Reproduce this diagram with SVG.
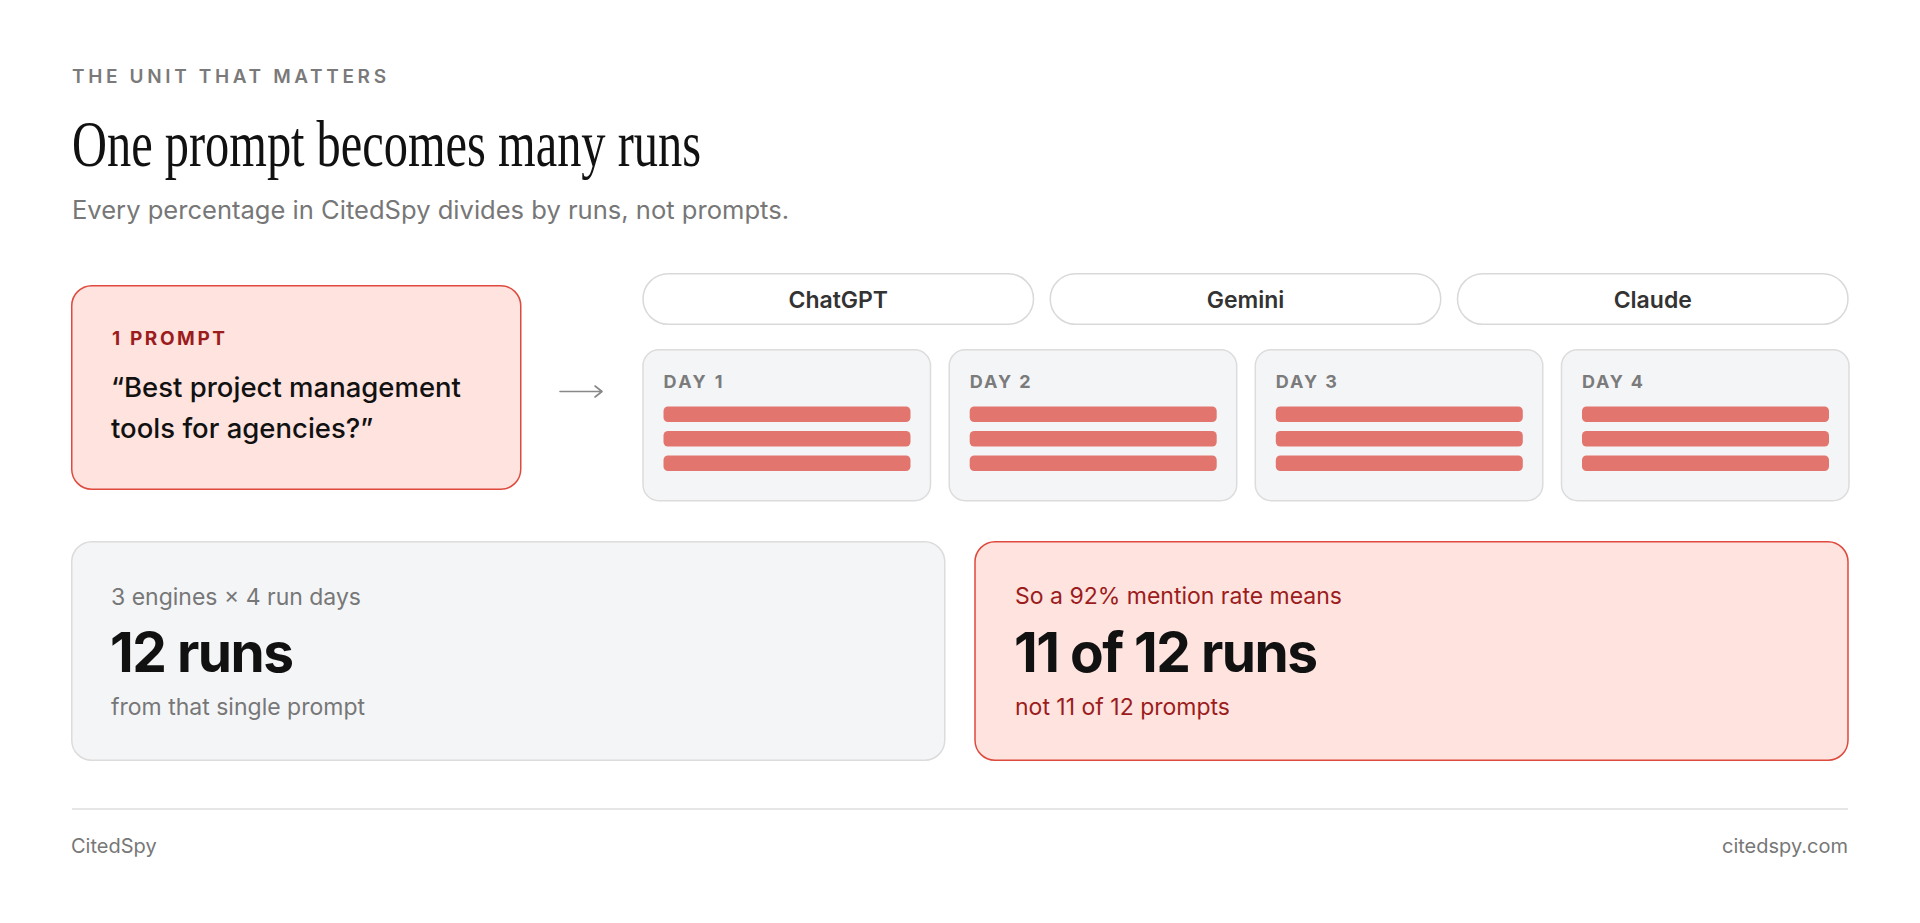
<svg xmlns="http://www.w3.org/2000/svg" width="1920" height="923" viewBox="0 0 1920 923">
<style>
.eyebrow{font-family:Inter,"Liberation Sans",sans-serif;font-weight:600;font-size:19px;fill:#7a7a7a}
.title{font-family:"Liberation Serif","DejaVu Serif",serif;font-size:66px;fill:#111}
.sub{font-family:Inter,"Liberation Sans",sans-serif;font-size:25px;fill:#777}
.pink{fill:#fee3df;stroke:#de4a3d;stroke-width:1.5}
.gray{fill:#f4f5f7;stroke:#dcdcdc;stroke-width:1.5}
.pill{fill:#fff;stroke:#d9d9d9;stroke-width:1.5}
.pilltxt{font-family:Inter,"Liberation Sans",sans-serif;font-weight:600;font-size:23px;fill:#333;text-anchor:middle}
.daylbl{font-family:Inter,"Liberation Sans",sans-serif;font-weight:700;font-size:18px;fill:#7b7b7b}
.bar{fill:#e2766e}
.prlbl{font-family:Inter,"Liberation Sans",sans-serif;font-weight:700;font-size:19px;fill:#9b1c1c}
.quote{font-family:Inter,"Liberation Sans",sans-serif;font-weight:500;font-size:27.5px;fill:#111}
.small{font-family:Inter,"Liberation Sans",sans-serif;font-size:23px;fill:#777}
.smallred{font-family:Inter,"Liberation Sans",sans-serif;font-size:23px;fill:#9b1c1c}
.big{font-family:Inter,"Liberation Sans",sans-serif;font-weight:700;font-size:55px;fill:#111;letter-spacing:-1.5px}
.foot{font-family:Inter,"Liberation Sans",sans-serif;font-size:20px;fill:#777}
.arrow{fill:none;stroke:#888;stroke-width:1.6;stroke-linecap:round;stroke-linejoin:round}
</style>

<g id="header">
<text class="eyebrow" x="72" y="83" textLength="314" lengthAdjust="spacing">THE UNIT THAT MATTERS</text>
<text class="title" x="72" y="166" textLength="629" lengthAdjust="spacingAndGlyphs">One prompt becomes many runs</text>
<text class="sub" x="72" y="219" textLength="717" lengthAdjust="spacingAndGlyphs">Every percentage in CitedSpy divides by runs, not prompts.</text>
</g>

<g id="prompt">
<rect class="pink" x="71.75" y="285.75" width="449" height="203.5" rx="20"/>
<text class="prlbl" x="112" y="345" textLength="113" lengthAdjust="spacing">1 PROMPT</text>
<text class="quote" x="111" y="397">“Best project management</text>
<text class="quote" x="111" y="438">tools for agencies?”</text>
</g>

<g id="connectors">
<path class="arrow" d="M560 391.5 H602 M595 386 L602 391.5 L595 397"/>
</g>

<g id="engine-chatgpt">
<rect class="pill" x="643" y="273.75" width="390.5" height="50.5" rx="25.25"/>
<text class="pilltxt" x="838.25" y="307.5">ChatGPT</text>
</g>
<g id="engine-gemini">
<rect class="pill" x="1050.25" y="273.75" width="390.5" height="50.5" rx="25.25"/>
<text class="pilltxt" x="1245.5" y="307.5">Gemini</text>
</g>
<g id="engine-claude">
<rect class="pill" x="1457.5" y="273.75" width="390.5" height="50.5" rx="25.25"/>
<text class="pilltxt" x="1652.75" y="307.5">Claude</text>
</g>

<g id="day1">
<rect class="gray" x="643" y="349.75" width="287.5" height="151" rx="16"/>
<text class="daylbl" x="663.5" y="387.5" textLength="59" lengthAdjust="spacing">DAY 1</text>
<rect class="bar" x="663.5" y="406.5" width="247" height="15.5" rx="4.5"/>
<rect class="bar" x="663.5" y="431" width="247" height="15.5" rx="4.5"/>
<rect class="bar" x="663.5" y="455.5" width="247" height="15.5" rx="4.5"/>
</g>
<g id="day2">
<rect class="gray" x="949.2" y="349.75" width="287.5" height="151" rx="16"/>
<text class="daylbl" x="969.7" y="387.5" textLength="61" lengthAdjust="spacing">DAY 2</text>
<rect class="bar" x="969.7" y="406.5" width="247" height="15.5" rx="4.5"/>
<rect class="bar" x="969.7" y="431" width="247" height="15.5" rx="4.5"/>
<rect class="bar" x="969.7" y="455.5" width="247" height="15.5" rx="4.5"/>
</g>
<g id="day3">
<rect class="gray" x="1255.3" y="349.75" width="287.5" height="151" rx="16"/>
<text class="daylbl" x="1275.8" y="387.5" textLength="61" lengthAdjust="spacing">DAY 3</text>
<rect class="bar" x="1275.8" y="406.5" width="247" height="15.5" rx="4.5"/>
<rect class="bar" x="1275.8" y="431" width="247" height="15.5" rx="4.5"/>
<rect class="bar" x="1275.8" y="455.5" width="247" height="15.5" rx="4.5"/>
</g>
<g id="day4">
<rect class="gray" x="1561.5" y="349.75" width="287.5" height="151" rx="16"/>
<text class="daylbl" x="1582" y="387.5" textLength="61" lengthAdjust="spacing">DAY 4</text>
<rect class="bar" x="1582" y="406.5" width="247" height="15.5" rx="4.5"/>
<rect class="bar" x="1582" y="431" width="247" height="15.5" rx="4.5"/>
<rect class="bar" x="1582" y="455.5" width="247" height="15.5" rx="4.5"/>
</g>

<g id="total-runs">
<rect class="gray" x="71.75" y="541.75" width="873" height="218.5" rx="20"/>
<text class="small" x="111" y="605">3 engines × 4 run days</text>
<text class="big" x="110" y="672">12 runs</text>
<text class="small" x="111" y="715">from that single prompt</text>
</g>

<g id="mention-rate">
<rect class="pink" x="975" y="541.75" width="873" height="218.5" rx="20"/>
<text class="smallred" x="1015" y="604">So a 92% mention rate means</text>
<text class="big" x="1014" y="672">11 of 12 runs</text>
<text class="smallred" x="1015" y="715">not 11 of 12 prompts</text>
</g>

<g id="footer">
<line x1="72" y1="809" x2="1848" y2="809" stroke="#e6e6e6" stroke-width="2"/>
<text class="foot" x="71" y="853">CitedSpy</text>
<text class="foot" x="1848" y="853" text-anchor="end">citedspy.com</text>
</g>
</svg>
